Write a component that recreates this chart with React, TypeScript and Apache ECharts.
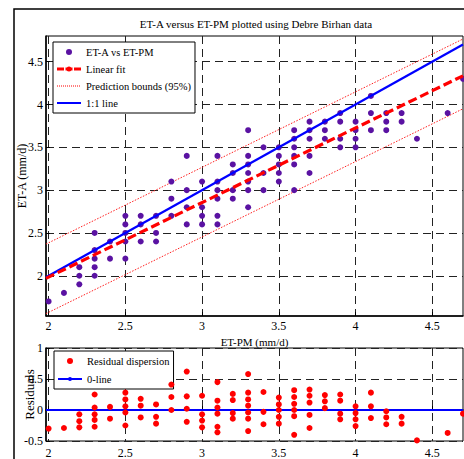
import React, { useEffect, useRef } from "react";
import * as echarts from "echarts";

// ---- data ----
const etPmLevels = [2.0, 2.1, 2.2, 2.3, 2.4, 2.5, 2.6, 2.7, 2.8, 2.9, 3.0, 3.1, 3.2, 3.3, 3.4, 3.5, 3.6, 3.7, 3.8, 3.9, 4.0, 4.1, 4.2, 4.3, 4.4, 4.6, 4.7];
const etAByLevel = [
  [1.7], [1.8], [2.1, 2.0, 1.9], [2.5, 2.3, 2.2, 2.1, 2.0], [2.4, 2.2],
  [2.7, 2.6, 2.5, 2.4, 2.2], [2.7, 2.6, 2.4], [2.7, 2.5, 2.4], [3.1, 2.9, 2.7],
  [3.4, 3.0, 2.8, 2.6], [3.1, 2.8, 2.7, 2.6], [3.4, 3.1, 3.0, 2.9, 2.7, 2.6],
  [3.3, 3.2, 3.0, 2.9], [3.7, 3.4, 3.3, 3.2, 3.1, 3.0, 2.8], [3.5, 3.2, 3.0],
  [3.5, 3.4, 3.3, 3.2, 3.1], [3.7, 3.6, 3.5, 3.4, 3.3, 3.0], [3.8, 3.7, 3.6, 3.4, 3.2],
  [3.8, 3.7, 3.6], [3.9, 3.8, 3.6, 3.5], [3.8, 3.7, 3.6, 3.5], [4.1, 3.9, 3.7],
  [3.9, 3.8, 3.7], [3.9, 3.8], [3.6], [3.9], [4.3],
];
const residualsByLevel = [
  [-0.3], [-0.29], [-0.07, -0.18, -0.28], [0.25, 0.04, -0.07, -0.16, -0.27], [0.05, -0.14],
  [0.28, 0.17, 0.06, -0.04, -0.25], [0.18, 0.07, -0.12], [0.09, -0.11, -0.22], [0.41, 0.21, 0.0],
  [0.62, 0.22, 0.02, -0.19], [0.23, -0.07, -0.17, -0.28], [0.45, 0.15, 0.04, -0.06, -0.27, -0.36],
  [0.26, 0.16, -0.05, -0.14], [0.58, 0.28, 0.17, 0.07, -0.04, -0.14, -0.34], [0.29, -0.03, -0.23],
  [0.2, 0.09, 0.0, -0.11, -0.22], [0.32, 0.21, 0.1, 0.0, -0.1, -0.4], [0.33, 0.23, 0.12, -0.08, -0.29],
  [0.24, 0.14, 0.03], [0.25, 0.15, -0.06, -0.15], [0.06, -0.05, -0.15, -0.26], [0.28, 0.06, -0.13],
  [-0.02, -0.12, -0.23], [-0.11, -0.22], [-0.49], [-0.37], [-0.06],
];
const lineX = [1.983, 4.7];
const fitY = [1.97, 4.335];
const upperBoundY = [2.37, 4.765];
const lowerBoundY = [1.558, 3.95];
const oneToOneY = [1.983, 4.7];
const zeroLineY = [0, 0];
const xTicks = [2, 2.5, 3, 3.5, 4, 4.5];
const yTicksTop = [2, 2.5, 3, 3.5, 4, 4.5];

const titleText = "ET-A versus ET-PM plotted using Debre Birhan data";

const serif = "Liberation Serif";

function pairs(levels: number[], groups: number[][]) {
  const out: number[][] = [];
  levels.forEach((x, i) => groups[i].forEach((y) => out.push([x, y])));
  return out;
}
function linePairs(xs: number[], ys: number[]) {
  return xs.map((x, i) => [x, ys[i]]);
}

// legend icons (24 x 12 box)
const box = "M0,0M24,12";
const dotIcon = `path://${box}M9,6a3,3 0 1,1 6,0a3,3 0 1,1 -6,0z`;
const dashDotIcon = `path://${box}M0,4.5h7v3h-7zM17,4.5h7v3h-7zM9.5,6a2.5,2.5 0 1,1 5,0a2.5,2.5 0 1,1 -5,0zM8.5,4.5h7v3h-7z`;
let dotted = "";
for (let i = 0; i < 24; i += 2) dotted += `M${i},5.5h1v1h-1z`;
const dottedIcon = `path://${box}${dotted}`;
const solidIcon = `path://${box}M0,5h24v2h-24z`;
const solidMarkIcon = `path://${box}M0,5h10.5v2h-10.5zM13.5,5h10.5v2h-10.5zM10,6a2,2 0 1,1 4,0a2,2 0 1,1 -4,0z`;

export default function App() {
  const ref = useRef<HTMLDivElement>(null);
  useEffect(() => {
    if (!ref.current) return;
    const chart = echarts.init(ref.current, undefined, { renderer: "svg" });
    const axisLabelStyle = { fontFamily: serif, fontSize: 12, color: "#000" };
    const splitLine = { show: true, lineStyle: { color: "#222", width: 1, type: [8, 5] as any } };
    const axisLine = { show: true, lineStyle: { color: "#000", width: 1.5 } };
    const legendText = { fontFamily: serif, fontSize: 10.5, color: "#000" };
    const legendItemStyle = { borderWidth: 0, borderColor: "transparent" };
    const legendLineStyle = { width: 0, color: "transparent" };
    chart.setOption({
      animation: false,
      backgroundColor: "#fff",
      textStyle: { fontFamily: serif },
      title: {
        text: titleText,
        left: 256,
        top: 18,
        textAlign: "center",
        padding: 0,
        textStyle: { fontFamily: serif, fontSize: 11, fontWeight: "normal", color: "#000" },
      },
      graphic: [
        {
          type: "rect",
          shape: { x: 14, y: 9, width: 470, height: 470 },
          style: { fill: "none", stroke: "#000", lineWidth: 1.5 },
          silent: true,
        },
      ],
      legend: [
        {
          left: 53,
          top: 42,
          orient: "vertical",
          itemWidth: 24,
          itemHeight: 12,
          itemGap: 5,
          padding: [4, 4, 4, 4],
          borderColor: "#000",
          borderWidth: 1,
          backgroundColor: "#fff",
          textStyle: legendText,
          itemStyle: legendItemStyle,
          lineStyle: legendLineStyle,
          data: [
            { name: "ET-A vs ET-PM", icon: dotIcon },
            { name: "Linear fit", icon: dashDotIcon },
            { name: "Prediction bounds (95%)", icon: dottedIcon },
            { name: "1:1 line", icon: solidIcon },
          ],
        },
        {
          left: 54,
          top: 351,
          orient: "vertical",
          itemWidth: 24,
          itemHeight: 12,
          itemGap: 6,
          padding: [4, 4, 4, 4],
          borderColor: "#000",
          borderWidth: 1,
          backgroundColor: "#fff",
          textStyle: legendText,
          itemStyle: legendItemStyle,
          lineStyle: legendLineStyle,
          data: [
            { name: "Residual dispersion", icon: dotIcon },
            { name: "0-line", icon: solidMarkIcon },
          ],
        },
      ],
      grid: [
        { left: 46, top: 36, width: 417, height: 280, show: true, borderColor: "#000", borderWidth: 1 },
        { left: 46, top: 348, width: 417, height: 96, show: true, borderColor: "#000", borderWidth: 1 },
      ],
      xAxis: [
        {
          gridIndex: 0,
          type: "value",
          min: 1.983,
          max: 4.7,
          name: "ET-PM (mm/d)",
          nameLocation: "middle",
          nameGap: 20,
          nameMoveOverlap: false,
          nameTextStyle: { fontFamily: serif, fontSize: 11, color: "#000" },
          axisLine,
          axisTick: { show: true, inside: true, length: 4, customValues: xTicks, lineStyle: { color: "#000" } },
          axisLabel: { ...axisLabelStyle, margin: 4, customValues: xTicks, formatter: (v: number) => String(v) },
          splitLine,
        },
        {
          gridIndex: 1,
          type: "value",
          min: 1.983,
          max: 4.7,
          axisLine,
          axisTick: { show: true, inside: true, length: 4, customValues: xTicks, lineStyle: { color: "#000" } },
          axisLabel: { ...axisLabelStyle, margin: 6, customValues: xTicks, formatter: (v: number) => String(v) },
          splitLine,
        },
      ],
      yAxis: [
        {
          gridIndex: 0,
          type: "value",
          min: 1.53,
          max: 4.8,
          name: "ET-A (mm/d)",
          nameLocation: "middle",
          nameGap: 18,
          nameMoveOverlap: false,
          nameTextStyle: { fontFamily: serif, fontSize: 12, color: "#000" },
          axisLine,
          axisTick: { show: true, inside: true, length: 4, customValues: yTicksTop, lineStyle: { color: "#000" } },
          axisLabel: { ...axisLabelStyle, margin: 3, customValues: yTicksTop, formatter: (v: number) => String(v) },
          splitLine,
        },
        {
          gridIndex: 1,
          type: "value",
          min: -0.5,
          max: 1,
          interval: 0.5,
          name: "Residuals",
          nameLocation: "middle",
          nameGap: 10,
          nameMoveOverlap: false,
          nameTextStyle: { fontFamily: serif, fontSize: 13, color: "#000" },
          axisLine,
          axisTick: { show: true, inside: true, length: 4, lineStyle: { color: "#000" } },
          axisLabel: { ...axisLabelStyle, margin: 3, formatter: (v: number) => String(v) },
          splitLine,
        },
      ],
      series: [
        {
          name: "Prediction bounds (95%)",
          type: "line",
          xAxisIndex: 0,
          yAxisIndex: 0,
          data: linePairs(lineX, upperBoundY),
          showSymbol: false,
          symbol: "none",
          itemStyle: { color: "#ff0000" },
          lineStyle: { color: "#ff2020", width: 1, type: [1.5, 1.5] },
          z: 3,
        },
        {
          name: "Prediction bounds (95%)",
          type: "line",
          xAxisIndex: 0,
          yAxisIndex: 0,
          data: linePairs(lineX, lowerBoundY),
          showSymbol: false,
          symbol: "none",
          itemStyle: { color: "#ff0000" },
          lineStyle: { color: "#ff2020", width: 1, type: [1.5, 1.5] },
          z: 3,
        },
        {
          name: "ET-A vs ET-PM",
          type: "scatter",
          xAxisIndex: 0,
          yAxisIndex: 0,
          data: pairs(etPmLevels, etAByLevel),
          symbol: "circle",
          symbolSize: 6,
          itemStyle: { color: "#5a12a2", opacity: 1 },
          z: 4,
        },
        {
          name: "1:1 line",
          type: "line",
          xAxisIndex: 0,
          yAxisIndex: 0,
          data: linePairs(lineX, oneToOneY),
          showSymbol: false,
          symbol: "none",
          itemStyle: { color: "#0000ff" },
          lineStyle: { color: "#0000ff", width: 2.2 },
          z: 5,
        },
        {
          name: "Linear fit",
          type: "line",
          xAxisIndex: 0,
          yAxisIndex: 0,
          data: linePairs(lineX, fitY),
          showSymbol: false,
          symbol: "none",
          itemStyle: { color: "#ff0000" },
          lineStyle: { color: "#ff0000", width: 3.2, type: [9, 4] },
          z: 6,
        },
        {
          name: "0-line",
          type: "line",
          xAxisIndex: 1,
          yAxisIndex: 1,
          data: linePairs(lineX, zeroLineY),
          showSymbol: false,
          symbol: "none",
          itemStyle: { color: "#0000ff" },
          lineStyle: { color: "#0000ff", width: 2 },
          z: 3,
        },
        {
          name: "Residual dispersion",
          type: "scatter",
          xAxisIndex: 1,
          yAxisIndex: 1,
          data: pairs(etPmLevels, residualsByLevel),
          symbol: "circle",
          symbolSize: 6,
          clip: false,
          itemStyle: { color: "#ff0000", opacity: 1 },
          z: 4,
        },
      ],
    });
    return () => chart.dispose();
  }, []);
  return (
    <div
      ref={ref}
      style={{ position: "absolute", left: 0, top: 0, width: 464, height: 459 }}
    />
  );
}
